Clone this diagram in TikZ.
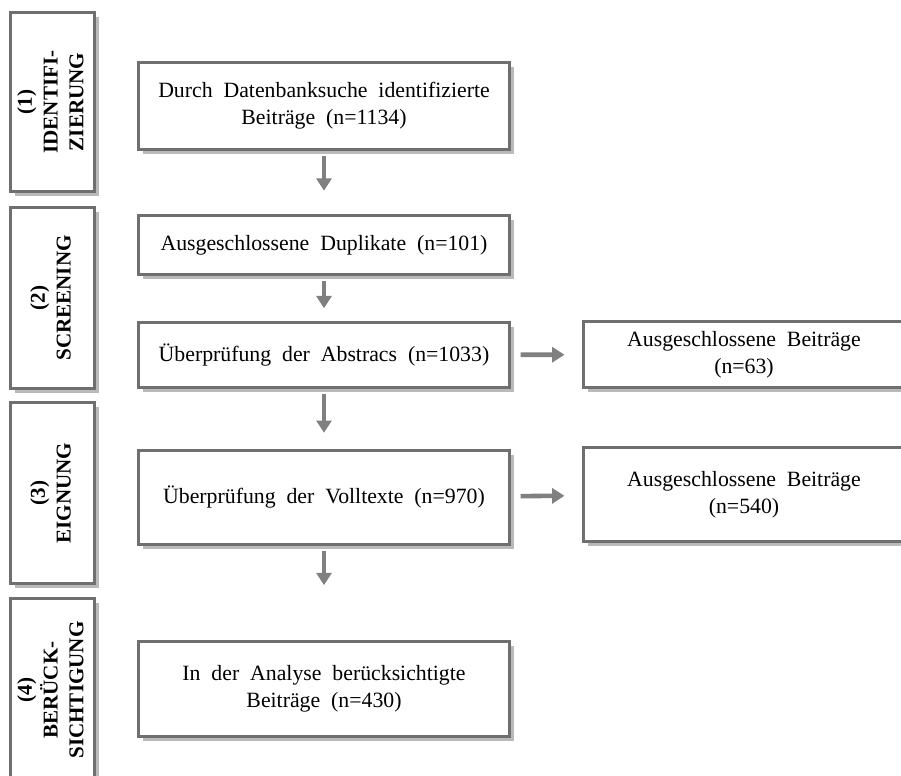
\documentclass[tikz,border=0pt]{standalone}
\usepackage{fontspec}
\setmainfont{Liberation Serif}[WordSpace=2]
\usetikzlibrary{arrows.meta,shadows}
\definecolor{boxgray}{HTML}{6F6F6F}
\definecolor{arrgray}{HTML}{808080}
\begin{document}
\begin{tikzpicture}[x=0.02cm, y=-0.02cm, line width=1.8pt, font=\fontsize{12.4}{15.3}\selectfont]
\tikzstyle{box} = [rectangle, fill=white, draw=boxgray, inner sep=0pt, align=center,
  drop shadow={shadow xshift=2.5pt, shadow yshift=-2.5pt, opacity=0.45, fill=black!60}]
\tikzstyle{stagebox} = [box, minimum width=85*0.567pt, font=\fontsize{12}{14.7}\selectfont\bfseries]
\tikzstyle{mainbox} = [box, minimum width=372*0.567pt]
\tikzstyle{arr} = [draw=arrgray, line width=2.6pt, -{Triangle[length=7pt, width=8.5pt]}]
\useasboundingbox (0,0) rectangle (901,775);
\clip (0,0) rectangle (901,775);
% stages
\node (s1) at (52.5,102) [stagebox, minimum height=180*0.567pt] {\rotatebox{90}{\begin{tabular}{@{}c@{}}(1)\\IDENTIFI-\\ZIERUNG\end{tabular}}};
\node (s2) at (52.5,298) [stagebox, minimum height=182*0.567pt] {\rotatebox{90}{\begin{tabular}{@{}c@{}}(2)\\SCREENING\end{tabular}}};
\node (s3) at (52.5,493) [stagebox, minimum height=182*0.567pt] {\rotatebox{90}{\begin{tabular}{@{}c@{}}(3)\\EIGNUNG\end{tabular}}};
\node (s4) at (52.5,690) [stagebox, minimum height=184*0.567pt] {\rotatebox{90}{\begin{tabular}{@{}c@{}}(4)\\BERÜCK-\\SICHTIGUNG\end{tabular}}};
% flow
\node (a) at (324,106) [mainbox, minimum height=88*0.567pt] {Durch Datenbanksuche identifizierte\\Beiträge (n=1134)};
\node (b) at (324,245) [mainbox, minimum height=60*0.567pt] {Ausgeschlossene Duplikate (n=101)};
\node (c) at (324,355) [mainbox, minimum height=66*0.567pt] {Überprüfung der Abstracs (n=1033)};
\node (d) at (324,497.5) [mainbox, minimum height=95*0.567pt] {Überprüfung der Volltexte (n=970)};
\node (e) at (324,689) [mainbox, minimum height=96*0.567pt] {In der Analyse berücksichtigte\\Beiträge (n=430)};
% excluded
\node (r1) at (744,354.5) [box, minimum width=322*0.567pt, minimum height=67*0.567pt] {Ausgeschlossene Beiträge\\(n=63)};
\node (r2) at (744,494.5) [box, minimum width=322*0.567pt, minimum height=95*0.567pt] {Ausgeschlossene Beiträge\\(n=540)};
\foreach \from/\to/\gap in {a/b/13pt, b/c/7pt, c/d/9pt, d/e/31pt}
  \draw [arr, shorten < = 2.5pt, shorten > = \gap] (\from) -- (\to);
\foreach \from/\to in {c/r1, d/r2}
  \draw [arr, shorten < = 5.5pt, shorten > = 10pt] (\from) -- (\to);
\end{tikzpicture}
\end{document}
